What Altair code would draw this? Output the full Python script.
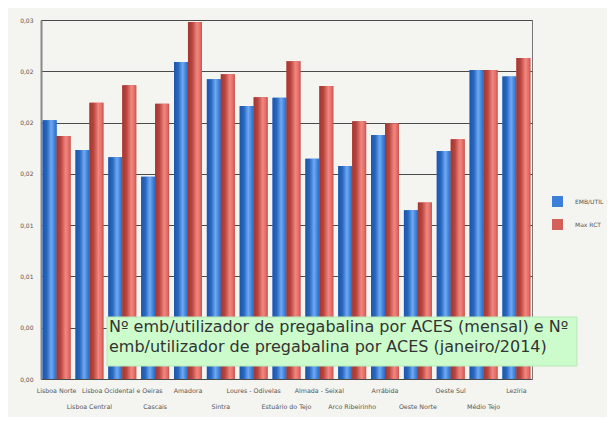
import json
import altair as alt
import pandas as pd

categories = ["Lisboa Norte", "Lisboa Central", "Lisboa Ocidental e Oeiras", "Cascais",
              "Amadora", "Sintra", "Loures - Odivelas", "Estuário do Tejo",
              "Almada - Seixal", "Arco Ribeirinho", "Arrábida", "Oeste Norte",
              "Oeste Sul", "Médio Tejo", "Lezíria"]
emb_util = [0.02018, 0.01787, 0.01729, 0.01577, 0.02473, 0.02338, 0.02130, 0.02193,
            0.01717, 0.01662, 0.01904, 0.01316, 0.01779, 0.02411, 0.02359]
max_rct = [0.01896, 0.02154, 0.02291, 0.02146, 0.02785, 0.02377, 0.02197, 0.02478,
           0.02286, 0.02010, 0.01992, 0.01376, 0.01870, 0.02411, 0.02504]
series_names = ["EMB/UTIL", "Max RCT"]
y_ticks = [0.0, 0.004, 0.008, 0.012, 0.016, 0.020, 0.024, 0.028]
note_text = "Nº emb/utilizador de pregabalina por ACES (mensal) e Nº\nemb/utilizador de pregabalina por ACES (janeiro/2014)"

rows = []
for c, a, b in zip(categories, emb_util, max_rct):
    rows.append({"ACES": c, "Serie": series_names[0], "Valor": a})
    rows.append({"ACES": c, "Serie": series_names[1], "Valor": b})
df = pd.DataFrame(rows)

W, H = 491, 359

label_expr = ("indexof(" + json.dumps(categories, ensure_ascii=False) +
              ", datum.value) % 2 == 1 ? ['', datum.value] : datum.value")

x_enc = alt.X("ACES:N", sort=categories, title=None,
              scale=alt.Scale(paddingInner=0.15, paddingOuter=0.05),
              axis=alt.Axis(labelAngle=0, labelExpr=label_expr, labelOverlap=False,
                            labelLimit=0, labelFontSize=6.3, labelColor="#555",
                            labelBaseline="top", labelLineHeight=16, labelPadding=8,
                            ticks=False, domain=False, grid=False,
                            labelFont="DejaVu Sans"))
xoff = alt.XOffset("Serie:N", sort=series_names,
                   scale=alt.Scale(paddingInner=0, paddingOuter=0))
y_enc = alt.Y("Valor:Q", title=None,
              scale=alt.Scale(domain=[0, 0.028], nice=False),
              axis=alt.Axis(values=y_ticks,
                            labelExpr="replace(format(datum.value, '.2f'), '.', ',')",
                            labelFontSize=6, labelColor="#555", labelPadding=8,
                            ticks=False, domain=True, domainColor="#888",
                            domainWidth=2, gridColor="#4a4a4a", gridWidth=1,
                            gridOpacity=1, labelFont="DejaVu Sans"))

base = alt.Chart(df).mark_bar().encode(
    x=x_enc, xOffset=xoff, y=y_enc,
    color=alt.Color("Serie:N", sort=series_names,
                    scale=alt.Scale(domain=series_names, range=["#3b7fd8", "#d4605a"]),
                    legend=alt.Legend(title=None, orient="none", legendX=511, legendY=176,
                                      symbolType="square", symbolSize=120,
                                      symbolStrokeWidth=0, labelFontSize=6,
                                      labelColor="#555", rowPadding=12,
                                      labelOffset=12, labelFont="DejaVu Sans")))

blue_grad = {"gradient": "linear", "x1": 0, "y1": 0, "x2": 1, "y2": 0,
             "stops": [{"offset": 0, "color": "#1b56a8"},
                       {"offset": 0.3, "color": "#2866c0"},
                       {"offset": 0.62, "color": "#6eaaf2"},
                       {"offset": 0.85, "color": "#3f82d8"},
                       {"offset": 1, "color": "#2c68bc"}]}
red_grad = {"gradient": "linear", "x1": 0, "y1": 0, "x2": 1, "y2": 0,
            "stops": [{"offset": 0, "color": "#a2362f"},
                      {"offset": 0.3, "color": "#b8453f"},
                      {"offset": 0.65, "color": "#f2877f"},
                      {"offset": 0.87, "color": "#e26d66"},
                      {"offset": 1, "color": "#c6524c"}]}

blue = alt.Chart(df).transform_filter(alt.datum.Serie == series_names[0]).mark_bar(
    fill=blue_grad).encode(x=x_enc, xOffset=xoff, y=y_enc)
red = alt.Chart(df).transform_filter(alt.datum.Serie == series_names[1]).mark_bar(
    fill=red_grad).encode(x=x_enc, xOffset=xoff, y=y_enc)

box = alt.Chart(pd.DataFrame({"t": [note_text]})).mark_rect(
    fill="#ccfccc", stroke="#b8e8b8", strokeWidth=1).encode(
    x=alt.value(66), x2=alt.value(536), y=alt.value(297), y2=alt.value(346))
txt = alt.Chart(pd.DataFrame({"t": [note_text]})).mark_text(
    align="left", baseline="top", lineBreak="\n", lineHeight=20,
    fontSize=16, font="DejaVu Sans", color="#333").encode(
    x=alt.value(68), y=alt.value(299), text="t:N")

chart = alt.layer(base, blue, red, box, txt).properties(
    width=W, height=H, background="#f4f4f0",
    padding={"left": 33, "top": 12, "right": 75, "bottom": 38},
    autosize=alt.AutoSizeParams(type="none")
).configure_view(stroke="#777", strokeWidth=1)

chart.save("out.html", embed_options={"renderer": "svg", "actions": False})
